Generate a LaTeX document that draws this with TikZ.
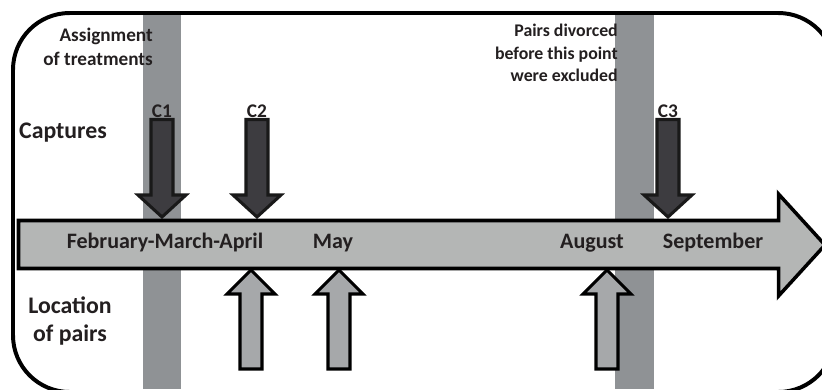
\documentclass[tikz,border=0pt]{standalone}
\usepackage{fontspec}
\setmainfont{Carlito}
\definecolor{bargrey}{HTML}{8F9295}
\definecolor{linegrey}{HTML}{B4B6B5}
\definecolor{capdark}{HTML}{3D3C40}
\definecolor{locgrey}{HTML}{A6A8AA}
\definecolor{inkblack}{HTML}{231F20}
\begin{document}
\begin{tikzpicture}[x=0.03cm,y=-0.03cm,line join=miter,text=inkblack,
		capt/.style={fill=capdark,draw=black!90,line width=2.6pt},
		loc/.style={fill=locgrey,draw=black,line width=2.6pt},
		lab/.style={inner sep=0pt,font=\fontsize{18.8}{22}\selectfont\bfseries},
		side/.style={inner sep=0pt,align=center,font=\fontsize{20.3}{24.7}\selectfont\bfseries},
		note/.style={inner sep=0pt,align=right,anchor=east,font=\fontsize{16.4}{20.4}\selectfont\bfseries}]
	\useasboundingbox (0,0) rectangle (822,389);
	\clip (0,0) rectangle (822,389);
	% grey bars
	\fill[bargrey] (143,13) rectangle (181,389);
	\fill[bargrey] (615,13) rectangle (654,389);
	% frame
	\draw[line width=3.4pt,rounded corners=1.7cm] (13,13) rectangle (835,392);
	% time line
	\draw[fill=linegrey,line width=3pt] (18.5,220.5) -- (778.5,220.5) -- (778.5,194) -- (825,245)
		-- (778.5,296) -- (778.5,268.5) -- (18.5,268.5) -- cycle;
	% captures
	\foreach \cx/\cname in {162/C1,257/C2,668/C3}{
		\draw[capt] (\cx-11,119.5) -- (\cx+11,119.5) -- (\cx+11,195) -- (\cx+24,195) -- (\cx,217)
			-- (\cx-24,195) -- (\cx-11,195) -- cycle;
		\node[lab,font=\fontsize{16.5}{18}\selectfont\bfseries,anchor=base] (\cname) at (\cx,117) {\cname};
	}
	% location of pairs
	\foreach \cx in {251,339,607}{
		\draw[loc] (\cx,270) -- (\cx+24,294) -- (\cx+11,294) -- (\cx+11,369) -- (\cx-11,369)
			-- (\cx-11,294) -- (\cx-24,294) -- cycle;
	}
	% months
	\node[lab,anchor=base] (feb) at (165,248) {February-March-April};
	\node[lab,anchor=base] (may) at (333,248) {May};
	\node[lab,anchor=base] (aug) at (592,248) {August};
	\node[lab,anchor=base] (sep) at (713,248) {September};
	% side texts
	\node[side,anchor=base] (captures) at (63,138) {Captures};
	\node[side] (location) at (70,321) {Location\\of pairs};
	\node[note] (assign) at (153,47) {Assignment\\of treatments};
	\node[note,font=\fontsize{15.2}{19.3}\selectfont\bfseries] (divorce) at (618,53) {Pairs divorced\\before this point\\were excluded};
\end{tikzpicture}
\end{document}
